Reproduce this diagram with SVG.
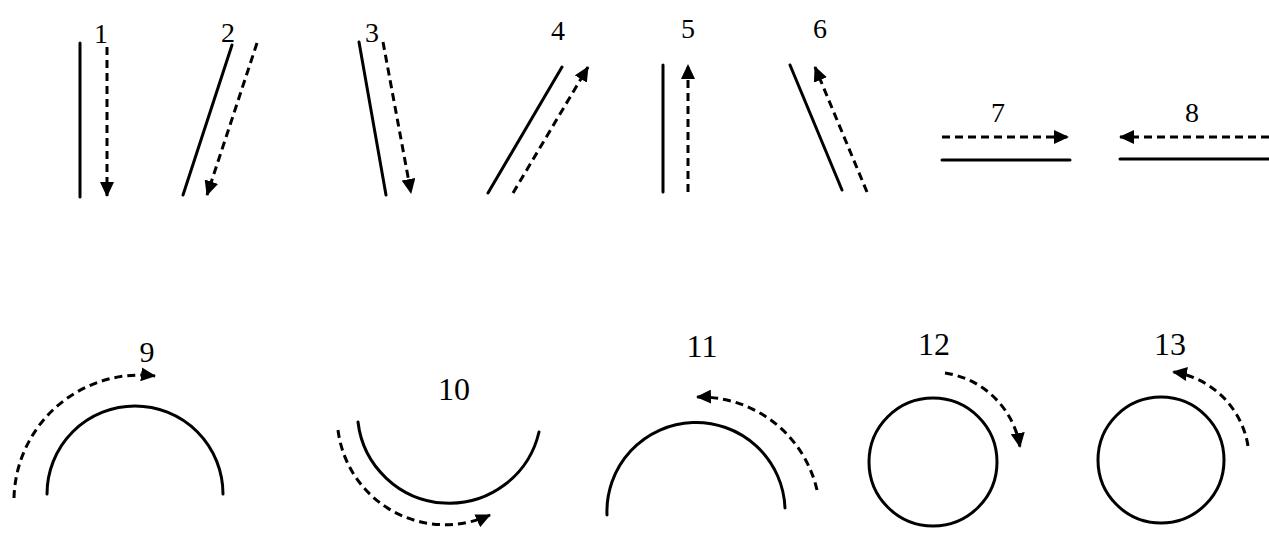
<svg xmlns="http://www.w3.org/2000/svg" width="1269" height="534" viewBox="0 0 1269 534">
<defs>
<marker id="ah" markerUnits="userSpaceOnUse" markerWidth="16" markerHeight="14" viewBox="0 0 16 14" refX="14" refY="7" orient="auto">
<path d="M0,0 L15,7 L0,14 z" fill="#000"/>
</marker>
<style>
.s{fill:none;stroke:#000;stroke-width:3;stroke-linecap:round}
.d{fill:none;stroke:#000;stroke-width:3;stroke-dasharray:8 5;marker-end:url(#ah)}
.t{font-family:"Liberation Serif","Times New Roman",serif;font-size:28px;fill:#000;text-anchor:middle}
.t2{font-size:32px}
</style>
</defs>
<rect width="1269" height="534" fill="#fff"/>
<g id="connectors">
<line class="d" x1="107" y1="47" x2="107" y2="196"/>
<line class="d" x1="257" y1="43" x2="207" y2="195"/>
<line class="d" x1="383" y1="42" x2="411" y2="193"/>
<line class="d" x1="513" y1="193" x2="588" y2="67"/>
<line class="d" x1="688" y1="192" x2="688" y2="65"/>
<line class="d" x1="867" y1="192" x2="815" y2="67"/>
<line class="d" x1="942" y1="137" x2="1068" y2="137"/>
<line class="d" x1="1269" y1="137" x2="1120" y2="137"/>
<path class="d" d="M14,498 A126,126 0 0 1 155,376"/>
<path class="d" d="M338,430 A108,108 0 0 0 490,515"/>
<path class="d" d="M817,490 A120,120 0 0 0 697,397"/>
<path class="d" d="M945,373 A89,89 0 0 1 1020,447"/>
<path class="d" d="M1248,446 A89,89 0 0 0 1173,372"/>
</g>
<g id="n1"><line class="s" x1="80" y1="43" x2="80" y2="197"/><text class="t" x="101" y="43">1</text></g>
<g id="n2"><line class="s" x1="232" y1="45" x2="183" y2="195"/><text class="t" x="228" y="42">2</text></g>
<g id="n3"><line class="s" x1="359" y1="42" x2="386" y2="195"/><text class="t" x="372" y="42">3</text></g>
<g id="n4"><line class="s" x1="488" y1="193" x2="562" y2="67"/><text class="t" x="558" y="40">4</text></g>
<g id="n5"><line class="s" x1="663" y1="65" x2="663" y2="192"/><text class="t" x="688" y="38">5</text></g>
<g id="n6"><line class="s" x1="790" y1="65" x2="842" y2="190"/><text class="t" x="820" y="38">6</text></g>
<g id="n7"><line class="s" x1="942" y1="160" x2="1070" y2="160"/><text class="t" x="998" y="122">7</text></g>
<g id="n8"><line class="s" x1="1120" y1="159" x2="1269" y2="159"/><text class="t" x="1192" y="122">8</text></g>
<g id="n9"><path class="s" d="M47,494 A88,88 0 0 1 223,494"/><text class="t" x="147" y="362" style="font-size:30px">9</text></g>
<g id="n10"><path class="s" d="M358,422 A92,92 0 0 0 539,432"/><text class="t t2" x="454" y="400">10</text></g>
<g id="n11"><path class="s" d="M607,515 A89,89 0 0 1 785,508"/><text class="t t2" x="702" y="357">11</text></g>
<g id="n12"><circle class="s" cx="933" cy="462" r="64"/><text class="t t2" x="934" y="355">12</text></g>
<g id="n13"><circle class="s" cx="1161" cy="460" r="63"/><text class="t t2" x="1170" y="355">13</text></g>
</svg>
